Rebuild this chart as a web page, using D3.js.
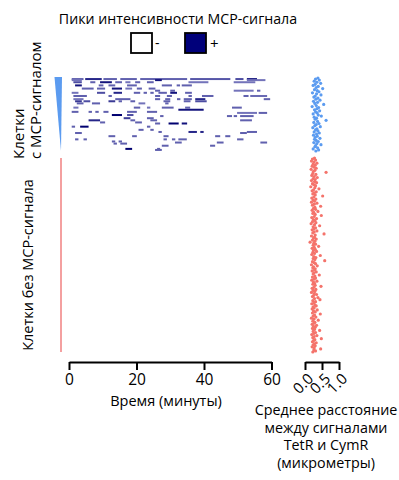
<!DOCTYPE html>
<html>
<head>
<meta charset="utf-8">
<script src="https://cdn.jsdelivr.net/npm/d3@7"></script>
<style>
  body { margin: 0; background: #fff; }
  text { font-family: "Open Sans", sans-serif; fill: #000; }
</style>
</head>
<body>
<div id="chart-area"></div>
<script>
// Данные: отрезки пиков интенсивности [клетка, начало (мин), конец (мин), интенсивность 0..1]
const peakSegments = [
  [1, 0.8, 4.3, 0.5], [1, 4.8, 9.7, 0.8], [1, 10.2, 14.2, 0.5], [1, 15.2, 20.1, 0.5], [1, 21.1, 35, 0.5],
  [1, 35.9, 47.8, 0.55], [1, 49.3, 51.7, 0.6], [1, 52.7, 55.7, 0.85],
  [2, 0.8, 3.8, 0.4], [2, 25.5, 27.5, 0.9], [2, 52.7, 58.2, 0.4],
  [4, 1.3, 3.8, 0.6], [4, 6.3, 7.8, 0.5], [4, 9.2, 12.7, 0.9], [4, 13.7, 15.7, 0.5], [4, 16.7, 18.2, 0.4],
  [4, 19.6, 21.1, 0.5], [4, 23.1, 25.1, 0.5], [4, 35.4, 41.3, 0.4], [4, 48.8, 55.2, 0.4],
  [7, 1.8, 3.8, 0.9], [7, 8.8, 10.2, 0.5], [7, 11.7, 13.7, 0.5], [7, 17.2, 20.1, 0.5], [7, 27.5, 30.5, 0.5],
  [7, 31.9, 32.9, 0.5], [7, 33.4, 36.4, 0.5],
  [10, 3.8, 7.3, 0.5], [10, 8.3, 10.7, 0.5], [10, 12.7, 15.7, 0.9], [10, 16.7, 18.7, 0.4], [10, 20.1, 21.6, 0.5],
  [10, 23.6, 25.6, 0.5],
  [12, 25.5, 27, 0.5], [12, 30, 31.4, 0.5], [12, 48.8, 54.7, 0.4], [12, 55.7, 56.7, 0.5],
  [14, 0.8, 2.8, 0.4], [14, 8.3, 10.7, 0.6], [14, 13.2, 15.7, 0.8], [14, 19.2, 21.1, 0.5], [14, 22.1, 23.1, 0.5],
  [14, 24.1, 25.1, 0.5], [14, 26.5, 29, 0.5], [14, 30, 32, 0.9], [14, 34.4, 36.4, 0.5],
  [17, 1.3, 5.3, 0.5], [17, 11.7, 12.7, 0.5], [17, 25.5, 27, 0.5], [17, 29, 30.5, 0.5], [17, 35.4, 36.4, 0.5],
  [17, 39.4, 42.8, 0.5], [17, 51.7, 53.2, 0.5], [17, 53.7, 58.7, 0.45],
  [20, 1.3, 4.3, 0.4], [20, 13.7, 18.2, 0.5], [20, 25.5, 27, 0.5], [20, 28.5, 30, 0.5], [20, 32, 33, 0.5],
  [20, 34, 36.4, 0.5], [20, 37.4, 40.4, 0.8], [20, 57.7, 59.6, 0.5],
  [22, 1.8, 3.8, 0.7], [22, 4.3, 6.3, 0.6], [22, 11.7, 13.7, 0.7], [22, 14.7, 15.7, 0.5], [22, 18.2, 19.6, 0.5],
  [22, 28, 30, 0.5], [22, 34, 36, 0.5], [22, 37.4, 40.8, 0.6],
  [24, 2.3, 4.3, 0.5], [24, 6.8, 9.2, 0.5], [24, 20.6, 22.6, 0.4], [24, 28.5, 29.5, 0.5],
  [28, 1.3, 2.8, 0.4], [28, 19.2, 21.1, 0.5], [28, 23.1, 24.1, 0.4], [28, 27.5, 31, 0.5], [28, 34.4, 35.9, 0.5],
  [28, 48.3, 51.2, 0.5],
  [30, 32.4, 39.9, 0.9],
  [32, 0.8, 2.8, 0.5], [32, 5.8, 6.8, 0.5], [32, 7.8, 8.8, 0.5], [32, 10.2, 11.7, 0.5], [32, 17.2, 20.1, 0.5],
  [32, 23.1, 26.1, 0.5], [33, 49.8, 55.7, 0.4], [33, 56.2, 58.7, 0.5],
  [35, 12.7, 15.7, 1.0], [35, 17.2, 19.1, 0.6], [36, 27, 28, 0.5], [36, 46.8, 48.3, 0.5], [36, 48.8, 49.8, 0.5],
  [36, 50.7, 54.7, 0.5],
  [38, 16.2, 18.2, 0.7], [38, 23.1, 25.1, 0.5],
  [40, 5.8, 9.2, 0.8], [40, 18.2, 19.6, 0.5], [40, 24.1, 26.1, 0.5], [40, 50.7, 54.2, 0.5],
  [42, 9.2, 10.7, 0.5], [42, 19.6, 21.6, 0.5], [43, 25.5, 27, 0.5], [43, 29.5, 32.5, 1.0], [43, 33.4, 35, 0.9],
  [46, 0.8, 1.8, 0.5], [46, 3.3, 5.8, 1.0], [46, 23.1, 24.1, 0.5],
  [49, 20.6, 22.1, 0.5], [49, 24.1, 25.1, 0.5], [51, 26.5, 27.5, 0.5], [51, 35.4, 37.9, 0.8], [51, 38.9, 39.9, 0.8],
  [51, 52.7, 55.7, 0.5],
  [52, 1.8, 3.8, 0.5], [52, 50.7, 52.7, 0.5],
  [55, 11.7, 13.7, 0.5], [55, 18.7, 20.1, 0.5], [55, 28, 29.5, 0.5], [55, 43.3, 44.8, 0.5], [55, 46.3, 47.8, 0.5],
  [58, 1.8, 2.8, 0.5], [58, 4.3, 5.3, 0.5], [58, 28, 29, 0.5], [58, 30.5, 31.5, 0.5], [58, 32.4, 34.9, 0.5],
  [58, 49.8, 51.7, 0.5],
  [60, 12.7, 13.7, 0.5], [60, 14.7, 15.7, 0.5],
  [62, 13.2, 14.2, 0.5], [62, 15.2, 17.2, 0.5], [61, 31.4, 33.4, 0.5], [61, 43.8, 45.8, 0.5], [61, 56.7, 58.7, 0.5],
  [64, 27.5, 29.5, 0.5], [64, 41.8, 43.3, 0.5],
  [67, 16.7, 18.7, 1.0], [67, 26.1, 27, 0.5], [68, 25.5, 27.5, 0.5]
];

// Среднее расстояние TetR–CymR (мкм), клетки с сигналом МСР
const distWithMcp = [
  0.38, 0.31, 0.42, 0.27, 0.35, 0.46, 0.30, 0.24, 0.39, 0.33,
  0.52, 0.28, 0.36, 0.41, 0.22, 0.34, 0.47, 0.30, 0.26, 0.38,
  0.32, 0.44, 0.25, 0.37, 0.29, 0.55, 0.33, 0.21, 0.40, 0.35,
  0.28, 0.43, 0.31, 0.36, 0.24, 0.39, 0.48, 0.27, 0.34, 0.30,
  0.62, 0.37, 0.26, 0.41, 0.33, 0.29, 0.45, 0.23, 0.35, 0.31,
  0.38, 0.27, 0.42, 0.34, 0.25, 0.36, 0.30, 0.44, 0.28, 0.33,
  0.39, 0.26, 0.35, 0.47, 0.31, 0.29, 0.37, 0.24, 0.40, 0.32
];

// Клетки без сигнала МСР
const distWithoutMcp = [
  0.28, 0.22, 0.31, 0.19, 0.26, 0.35, 0.24, 0.30, 0.21, 0.27,
  0.33, 0.18, 0.29, 0.25, 0.62, 0.23, 0.32, 0.20, 0.27, 0.36,
  0.24, 0.30, 0.19, 0.28, 0.34, 0.22, 0.26, 0.31, 0.17, 0.29,
  0.41, 0.25, 0.21, 0.33, 0.27, 0.23, 0.30, 0.52, 0.26, 0.20,
  0.32, 0.24, 0.28, 0.19, 0.35, 0.27, 0.22, 0.46, 0.29, 0.25,
  0.31, 0.21, 0.38, 0.26, 0.23, 0.30, 0.48, 0.27, 0.20, 0.34,
  0.25, 0.29, 0.22, 0.32, 0.18, 0.28, 0.43, 0.24, 0.31, 0.26,
  0.21, 0.35, 0.27, 0.23, 0.56, 0.30, 0.19, 0.28, 0.25, 0.33,
  0.22, 0.29, 0.15, 0.26, 0.31, 0.24, 0.40, 0.27, 0.21, 0.30,
  0.25, 0.34, 0.23, 0.28, 0.20, 0.45, 0.26, 0.32, 0.24, 0.29,
  0.58, 0.22, 0.27, 0.31, 0.19, 0.36, 0.25, 0.23, 0.30, 0.28,
  0.21, 0.33, 0.26, 0.24, 0.42, 0.29, 0.22, 0.31, 0.27, 0.20,
  0.35, 0.25, 0.28, 0.23, 0.30, 0.47, 0.26, 0.21, 0.32, 0.24,
  0.29, 0.19, 0.27, 0.34, 0.25, 0.22, 0.38, 0.28, 0.44, 0.23,
  0.31, 0.26, 0.20, 0.29, 0.33, 0.24, 0.27, 0.21, 0.36, 0.25,
  0.30, 0.22, 0.45, 0.28, 0.24, 0.32, 0.19, 0.26, 0.39, 0.23,
  0.29, 0.27, 0.21, 0.34, 0.25, 0.30, 0.22, 0.28, 0.43, 0.24,
  0.31, 0.26, 0.20, 0.35, 0.27, 0.23, 0.48, 0.29, 0.25, 0.22,
  0.33, 0.28, 0.24, 0.30, 0.21, 0.27, 0.46, 0.26, 0.31, 0.23
];

const timeTicks = [0, 20, 40, 60];
const distTicks = [0, 0.5, 1.0];
const yLabelLines = ["Среднее расстояние", "между сигналами", "TetR и CymR", "(микрометры)"];

const width = 399;
const height = 480;

const svg = d3.select("#chart-area")
  .append("svg")
  .attr("width", width)
  .attr("height", height);

// Шкалы
const x = d3.scaleLinear().domain([0, 60]).range([69, 271.5]);
const xd = d3.scaleLinear().domain([0, 1]).range([305, 339]);
const yBlue = d3.scaleLinear().domain([0, distWithMcp.length - 1]).range([78, 151]);
const yRed = d3.scaleLinear().domain([0, distWithoutMcp.length - 1]).range([158, 352]);
const shade = d3.interpolateRgb("#c0c0ec", "#000070");

// Заголовок и легенда
svg.append("text")
  .attr("x", 178)
  .attr("y", 24)
  .attr("text-anchor", "middle")
  .attr("font-size", "14.2px")
  .text("Пики интенсивности МСР-сигнала");

svg.append("rect")
  .attr("x", 131).attr("y", 33).attr("width", 21).attr("height", 20)
  .attr("fill", "#fff").attr("stroke", "#000").attr("stroke-width", 1.8);
svg.append("text").attr("x", 155).attr("y", 48).attr("font-size", "14px").text("-");

svg.append("rect")
  .attr("x", 185).attr("y", 33).attr("width", 21).attr("height", 20)
  .attr("fill", "#00007a").attr("stroke", "#000").attr("stroke-width", 1.8);
svg.append("text").attr("x", 210).attr("y", 49).attr("font-size", "15px").text("+");

// Пики (тепловая карта)
svg.append("g")
  .selectAll("rect")
  .data(peakSegments)
  .enter()
  .append("rect")
  .attr("x", d => x(d[1]))
  .attr("y", d => yBlue(d[0]) - 1)
  .attr("width", d => x(d[2]) - x(d[1]))
  .attr("height", 2)
  .attr("fill", d => shade(d[3]));

// Маркеры групп
svg.append("polygon")
  .attr("points", [
    [54.5, yBlue(0) - 1], [62, yBlue(0) - 1], [61, yBlue(distWithMcp.length - 1)]
  ].map(p => p.join(",")).join(" "))
  .attr("fill", "#5b9bf0");

svg.append("line")
  .attr("x1", 61).attr("x2", 61)
  .attr("y1", yRed(0)).attr("y2", yRed(distWithoutMcp.length - 1))
  .attr("stroke", "#f08080")
  .attr("stroke-width", 1.5);

// Подписи групп
const leftLab = svg.append("text")
  .attr("transform", "translate(24,159) rotate(-90)")
  .attr("text-anchor", "start")
  .attr("font-size", "15px");
leftLab.append("tspan").attr("x", 0).attr("dy", 0).text("Клетки");
leftLab.append("tspan").attr("x", 0).attr("dy", 17).text("с МСР-сигналом");

svg.append("text")
  .attr("transform", "translate(33,265) rotate(-90)")
  .attr("text-anchor", "middle")
  .attr("font-size", "14.5px")
  .text("Клетки без МСР-сигнала");

// Точки расстояний
svg.append("g")
  .selectAll("circle")
  .data(distWithMcp)
  .enter()
  .append("circle")
  .attr("cx", d => xd(d))
  .attr("cy", (d, i) => yBlue(i))
  .attr("r", 1.6)
  .attr("fill", "#5b9bf0");

svg.append("g")
  .selectAll("circle")
  .data(distWithoutMcp)
  .enter()
  .append("circle")
  .attr("cx", d => xd(d))
  .attr("cy", (d, i) => yRed(i))
  .attr("r", 1.6)
  .attr("fill", "#f4736b");

// Оси
const timeAxis = d3.axisBottom(x).tickValues(timeTicks).tickSize(8).tickSizeOuter(0).tickPadding(4);
const gx = svg.append("g")
  .attr("transform", "translate(0,362)")
  .call(timeAxis);
gx.selectAll("text").attr("font-size", "15.5px").style("font-family", "Open Sans, sans-serif");

const distAxis = d3.axisBottom(xd).tickValues(distTicks).tickFormat(d3.format(".1f"))
  .tickSize(8).tickSizeOuter(0);
const gd = svg.append("g")
  .attr("transform", "translate(0,362)")
  .call(distAxis);
gd.selectAll("text")
  .attr("font-size", "15px")
  .style("font-family", "Open Sans, sans-serif")
  .attr("text-anchor", "end")
  .attr("x", 0)
  .attr("y", 0)
  .attr("dy", "0.35em")
  .attr("transform", "translate(5,14) rotate(-45)");

[gx, gd].forEach(g => {
  g.selectAll("path, line").attr("stroke", "#000").attr("stroke-width", 2);
});

svg.append("text")
  .attr("x", 166)
  .attr("y", 406)
  .attr("text-anchor", "middle")
  .attr("font-size", "14.5px")
  .text("Время (минуты)");

const yl = svg.append("text")
  .attr("text-anchor", "middle")
  .attr("font-size", "14.3px");
yLabelLines.forEach((line, i) => {
  yl.append("tspan").attr("x", 326).attr("y", 415 + i * 17.5).text(line);
});
</script>
</body>
</html>
